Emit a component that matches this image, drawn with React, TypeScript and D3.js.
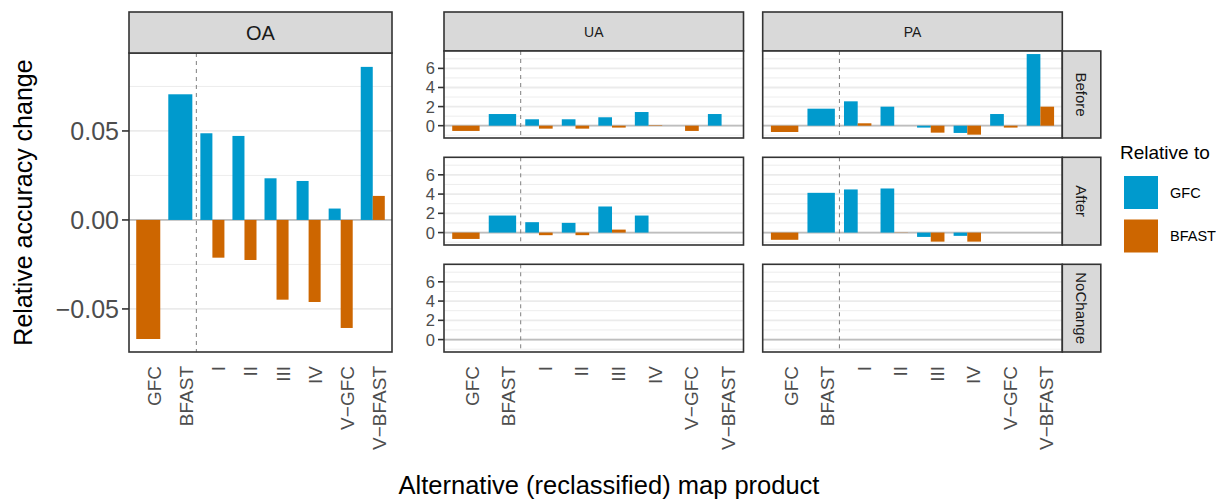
import { useEffect, useRef } from 'react';
import * as d3 from 'd3';

const CATEGORIES = ['GFC', 'BFAST', 'I', 'II', 'III', 'IV', 'V\u2212GFC', 'V\u2212BFAST'];
const SERIES = ['GFC', 'BFAST'];
const COLORS = ['#009ACD', '#CD6600'];

// OA, relative to GFC / BFAST (null = no bar)
const OA_GFC = [null, 0.0706, 0.0487, 0.0472, 0.0234, 0.0219, 0.0064, 0.086];
const OA_BFAST = [-0.0669, null, -0.0212, -0.0225, -0.0448, -0.0461, -0.0607, 0.0135];

const UA_BEFORE_GFC = [null, 1.22, 0.67, 0.67, 0.88, 1.43, 0, 1.22];
const UA_BEFORE_BFAST = [-0.55, null, -0.31, -0.31, -0.2, 0.05, -0.55, 0];
const UA_AFTER_GFC = [null, 1.77, 1.08, 1.01, 2.71, 1.77, 0, 0];
const UA_AFTER_BFAST = [-0.66, null, -0.27, -0.27, 0.31, 0, 0, 0];
const PA_BEFORE_GFC = [null, 1.78, 2.55, 1.99, -0.2, -0.76, 1.22, 7.5];
const PA_BEFORE_BFAST = [-0.66, null, 0.25, 0, -0.73, -0.94, -0.2, 1.99];
const PA_AFTER_GFC = [null, 4.13, 4.48, 4.58, -0.45, -0.34, 0, 0];
const PA_AFTER_BFAST = [-0.75, null, 0, 0.02, -0.94, -0.94, 0, 0];

const ROWS = ['Before', 'After', 'NoChange'];
const COLS = ['UA', 'PA'];
const FACET_DATA = {
  UA: { Before: [UA_BEFORE_GFC, UA_BEFORE_BFAST], After: [UA_AFTER_GFC, UA_AFTER_BFAST], NoChange: null },
  PA: { Before: [PA_BEFORE_GFC, PA_BEFORE_BFAST], After: [PA_AFTER_GFC, PA_AFTER_BFAST], NoChange: null },
};

const OA_DOMAIN = [-0.0742, 0.0938];
const OA_TICKS = [-0.05, 0, 0.05];
const OA_MINOR = [-0.025, 0.025, 0.075];
const FACET_DOMAIN = [-1.29, 7.82];
const FACET_TICKS = [0, 2, 4, 6];
const FACET_MINOR = [-1, 1, 3, 5, 7];

const FONT = 'Liberation Sans, Arial, Helvetica, sans-serif';

export default function App() {
  const svgRef = useRef(null);

  useEffect(() => {
    const svg = d3.select(svgRef.current);
    svg.selectAll('*').remove();
    const W = 1216, H = 501;
    svg.attr('width', W).attr('height', H).attr('viewBox', `0 0 ${W} ${H}`)
      .style('font-family', FONT);
    svg.append('rect').attr('width', W).attr('height', H).attr('fill', 'white');

    const xScale = (x0, x1) => d3.scaleLinear().domain([0.4, 8.6]).range([x0, x1]);

    const drawPanel = (g, box, y, major, minor, series, showX, xLabelSize) => {
      const x = xScale(box.x0, box.x1);
      g.append('rect').attr('x', box.x0).attr('y', box.y0)
        .attr('width', box.x1 - box.x0).attr('height', box.y1 - box.y0).attr('fill', 'white');
      for (const m of minor) {
        g.append('line').attr('x1', box.x0).attr('x2', box.x1).attr('y1', y(m)).attr('y2', y(m))
          .attr('stroke', '#EBEBEB').attr('stroke-width', 0.9);
      }
      for (const m of major) {
        g.append('line').attr('x1', box.x0).attr('x2', box.x1).attr('y1', y(m)).attr('y2', y(m))
          .attr('stroke', '#EBEBEB').attr('stroke-width', 1.8);
      }
      g.append('line').attr('x1', box.x0).attr('x2', box.x1).attr('y1', y(0)).attr('y2', y(0))
        .attr('stroke', '#BEBEBE').attr('stroke-width', 1.8);
      g.append('line').attr('x1', x(2.5)).attr('x2', x(2.5)).attr('y1', box.y0).attr('y2', box.y1)
        .attr('stroke', '#7F7F7F').attr('stroke-width', 1).attr('stroke-dasharray', '4,4');

      if (series) {
        const unit = x(2) - x(1);
        const bw = unit * 0.75;
        CATEGORIES.forEach((_, i) => {
          const vals = series.map(s => s[i]);
          const present = vals.map((v, k) => ({ v, k })).filter(d => d.v !== null);
          present.forEach((d, j) => {
            const w = bw / present.length;
            const left = x(i + 1) - bw / 2 + j * w;
            g.append('rect')
              .attr('x', left).attr('width', w)
              .attr('y', Math.min(y(0), y(d.v)))
              .attr('height', Math.abs(y(d.v) - y(0)))
              .attr('fill', COLORS[d.k]);
          });
        });
      }

      g.append('rect').attr('x', box.x0).attr('y', box.y0)
        .attr('width', box.x1 - box.x0).attr('height', box.y1 - box.y0)
        .attr('fill', 'none').attr('stroke', '#333333').attr('stroke-width', 1.6);

      if (showX) {
        CATEGORIES.forEach((c, i) => {
          g.append('text')
            .attr('transform', `translate(${x(i + 1) + 13},${box.y1 + 14}) rotate(-90)`)
            .attr('text-anchor', 'end')
            .attr('font-size', xLabelSize)
            .attr('fill', '#4D4D4D')
            .text(c);
        });
      }
    };

    const drawYAxis = (g, x0, y, ticks, fmt, size, tickLen) => {
      for (const t of ticks) {
        g.append('line').attr('x1', x0 - tickLen).attr('x2', x0).attr('y1', y(t)).attr('y2', y(t))
          .attr('stroke', '#333333').attr('stroke-width', 1.6);
        g.append('text').attr('x', x0 - tickLen - 3).attr('y', y(t))
          .attr('dy', '0.36em').attr('text-anchor', 'end')
          .attr('font-size', size).attr('fill', '#4D4D4D').text(fmt(t));
      }
    };

    const strip = (g, x0, y0, x1, y1, label, size, vertical) => {
      g.append('rect').attr('x', x0).attr('y', y0).attr('width', x1 - x0).attr('height', y1 - y0)
        .attr('fill', '#D9D9D9').attr('stroke', '#333333').attr('stroke-width', 1.6);
      const cx = (x0 + x1) / 2, cy = (y0 + y1) / 2;
      g.append('text')
        .attr('transform', vertical ? `translate(${cx},${cy}) rotate(90)` : `translate(${cx},${cy})`)
        .attr('text-anchor', 'middle').attr('dy', '0.36em')
        .attr('font-size', size).attr('fill', '#1A1A1A').text(label);
    };

    // ---- OA plot ----
    const oaBox = { x0: 129, x1: 392, y0: 53, y1: 352 };
    const oaY = d3.scaleLinear().domain(OA_DOMAIN).range([oaBox.y1, oaBox.y0]);
    const gOA = svg.append('g');
    drawPanel(gOA, oaBox, oaY, OA_TICKS, OA_MINOR, [OA_GFC, OA_BFAST], true, 19);
    strip(gOA, oaBox.x0, 12, oaBox.x1, oaBox.y0, 'OA', 20, false);
    drawYAxis(gOA, oaBox.x0, oaY, OA_TICKS,
      t => (t < 0 ? '\u2212' : '') + d3.format('.2f')(Math.abs(t)), 25, 7);

    svg.append('text')
      .attr('transform', `translate(32,${(oaBox.y0 + oaBox.y1) / 2}) rotate(-90)`)
      .attr('text-anchor', 'middle').attr('font-size', 25).attr('fill', 'black')
      .text('Relative accuracy change');

    // ---- UA / PA facets ----
    const colX = [[444, 743.5], [762.7, 1062.3]];
    const rowY = [[51, 138], [157.3, 245], [264.3, 352]];
    const gF = svg.append('g');
    COLS.forEach((col, ci) => {
      strip(gF, colX[ci][0], 12, colX[ci][1], rowY[0][0], col, 14, false);
      ROWS.forEach((row, ri) => {
        const box = { x0: colX[ci][0], x1: colX[ci][1], y0: rowY[ri][0], y1: rowY[ri][1] };
        const y = d3.scaleLinear().domain(FACET_DOMAIN).range([box.y1, box.y0]);
        drawPanel(gF, box, y, FACET_TICKS, FACET_MINOR, FACET_DATA[col][row], ri === ROWS.length - 1, 19);
        if (ci === 0) drawYAxis(gF, box.x0, y, FACET_TICKS, d => String(d), 16.5, 6);
        if (ci === COLS.length - 1) strip(gF, box.x1, box.y0, box.x1 + 38.5, box.y1, row, 15, true);
      });
    });

    svg.append('text')
      .attr('x', 609).attr('y', 494)
      .attr('text-anchor', 'middle').attr('font-size', 25.5).attr('fill', 'black')
      .text('Alternative (reclassified) map product');

    // ---- legend ----
    const lg = svg.append('g');
    lg.append('text').attr('x', 1120).attr('y', 159).attr('font-size', 19).attr('fill', 'black')
      .text('Relative to');
    SERIES.forEach((s, i) => {
      const ky = 176 + i * 43.5;
      lg.append('rect').attr('x', 1124).attr('y', ky).attr('width', 34).attr('height', 33)
        .attr('fill', COLORS[i]);
      lg.append('text').attr('x', 1170).attr('y', ky + 16.5).attr('dy', '0.36em')
        .attr('font-size', 14.5).attr('fill', 'black').text(s);
    });
  }, []);

  return (
    <div style={{ position: 'absolute', left: 0, top: 0 }}>
      <svg ref={svgRef} style={{ display: 'block' }} />
    </div>
  );
}
